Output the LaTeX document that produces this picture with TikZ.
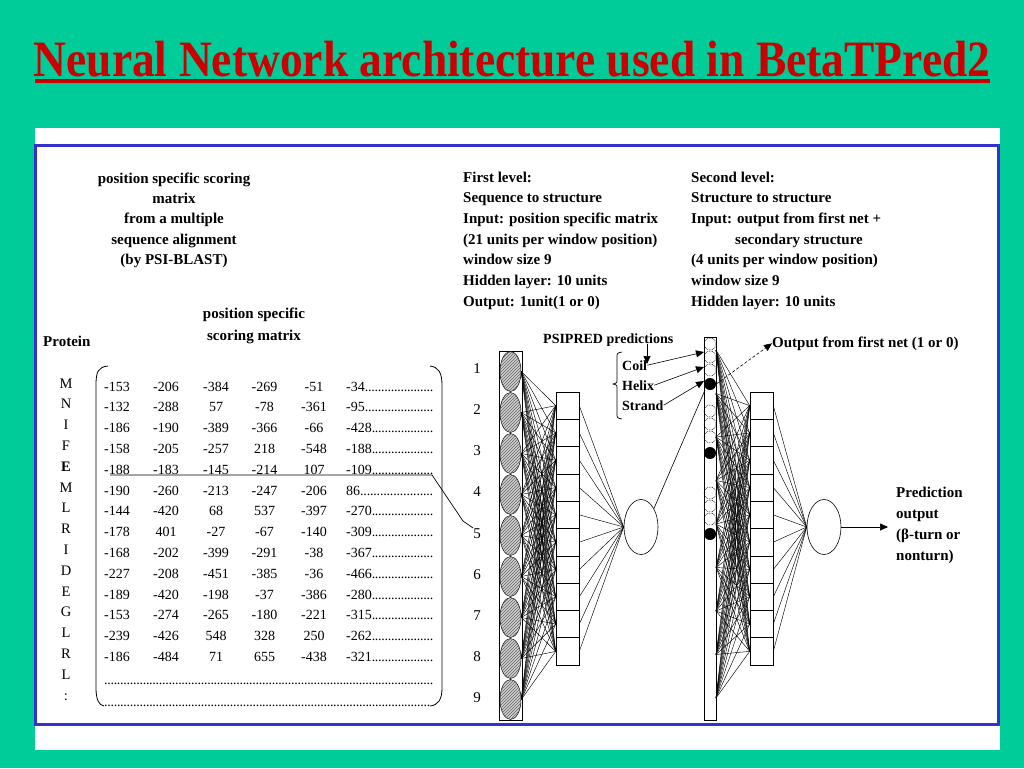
\documentclass[tikz,border=0pt]{standalone}
\usepackage{fontspec}
\setmainfont{Liberation Serif}
\usetikzlibrary{shapes.geometric,patterns,arrows.meta}
\definecolor{bggreen}{RGB}{0,204,153}
\definecolor{titlered}{RGB}{204,0,0}
\definecolor{frameblue}{RGB}{51,51,204}
\newcommand{\mxlead}[2]{\makebox[#1][l]{#2\xleaders\hbox to 3.2pt{\hss.\hss}\hfill}}
\begin{document}
\begin{tikzpicture}[x=1pt,y=-1pt,
  conn/.style={line width=0.45pt},
  arr/.style={line width=0.6pt,-{Triangle[length=8pt,width=7pt]}},
  lbl/.style={font=\fontsize{15}{20.7}\selectfont\bfseries, align=left, anchor=north west, inner sep=0},
  mtx/.style={font=\fontsize{14}{16}\selectfont, anchor=base, inner sep=0},
  inunit/.style={ellipse, draw, line width=0.5pt, minimum width=21, minimum height=40, inner sep=0,
     fill=gray!35, postaction={pattern=north east lines, pattern color=gray!75!black}},
  hbox/.style={draw, line width=0.6pt, minimum width=23, minimum height=27.3, inner sep=0},
  outunit/.style={draw, ellipse, line width=0.6pt, minimum width=34, minimum height=55, inner sep=0},
  openunit/.style={circle, draw, densely dotted, line width=0.6pt, minimum size=12, inner sep=0},
  fullunit/.style={circle, fill=black, minimum size=12, inner sep=0}]
\useasboundingbox (0,0) rectangle (1024,768);
\fill[bggreen] (0,0) rectangle (1024,768);
% title
\node[font=\fontsize{45.5}{50}\selectfont\bfseries, text=titlered, anchor=base, inner sep=0] (title) at (512,76)
  {\scalebox{1}[1.12]{Neural Network architecture used in BetaTPred2}};
\fill[titlered] (35,79) rectangle (990,83);
% panel
\fill[white] (35,128) rectangle (1000,750);
\draw[frameblue, line width=3pt] (35,145) rectangle (998,724);

% left header
\node[lbl, align=center, anchor=north, font=\fontsize{15}{20.3}\selectfont\bfseries] (psihead) at (174,168.8)
  {\strut position specific scoring\\matrix\\from a multiple\\sequence alignment\\(by PSI-BLAST)};
\node[lbl, align=center, anchor=north, font=\fontsize{15}{22}\selectfont\bfseries] (pssm) at (254,302.6)
  {\strut position specific\\scoring matrix};
\node[font=\fontsize{15}{18}\selectfont\bfseries, anchor=base west, inner sep=0] (protein) at (43,346) {Protein};

% sequence letters
\foreach \L [count=\k] in {M,N,I,F,{\textbf{E}},M,L,R,I,D,E,G,L,R,L,:}{
  \pgfmathsetmacro\yy{388+20.8*(\k-1)}
  \node[mtx, font=\fontsize{14.5}{16}\selectfont] (seq\k) at (66,\yy) {\L};
}
% matrix
\foreach \a/\b/\c/\d/\e/\f [count=\r] in {
 -153/-206/-384/-269/-51/-34, -132/-288/57/-78/-361/-95, -186/-190/-389/-366/-66/-428,
 -158/-205/-257/218/-548/-188, -188/-183/-145/-214/107/-109, -190/-260/-213/-247/-206/86,
 -144/-420/68/537/-397/-270, -178/401/-27/-67/-140/-309, -168/-202/-399/-291/-38/-367,
 -227/-208/-451/-385/-36/-466, -189/-420/-198/-37/-386/-280, -153/-274/-265/-180/-221/-315,
 -239/-426/548/328/250/-262, -186/-484/71/655/-438/-321}{
  \pgfmathsetmacro\yy{391+20.8*(\r-1)}
  \node[mtx] (ma\r) at (117,\yy) {\a};
  \node[mtx] (mb\r) at (166,\yy) {\b};
  \node[mtx] (mc\r) at (216,\yy) {\c};
  \node[mtx] (md\r) at (264.5,\yy) {\d};
  \node[mtx] (me\r) at (314,\yy) {\e};
  \node[mtx, anchor=base west] (mf\r) at (346,\yy) {\mxlead{87pt}{\f}};
}
\node[mtx, anchor=base west] (dots1) at (104,684) {\mxlead{329pt}{}};
\node[mtx, anchor=base west] (dots2) at (104,706) {\mxlead{326pt}{}};
% brackets
\draw[line width=0.8pt] (108,366) .. controls (98,367) and (96,372) .. (96,385) -- (96,688)
   .. controls (96,700) and (99,705) .. (104,706);
\draw[line width=0.8pt] (430,366) .. controls (438,367) and (442,372) .. (442,385) -- (442,688)
   .. controls (442,700) and (438,705) .. (430,706);

% position labels 1-9
\foreach \k in {1,...,9}{
  \pgfmathsetmacro\yy{332+41.2*\k}
  \node[mtx, font=\fontsize{15}{16}\selectfont] (n\k) at (477,\yy) {\k};
}
% line from row 5 to window position 5
\coordinate (r5a) at (110,475);
\coordinate (r5b) at (432,475);
\coordinate (r5c) at (463,521);
\draw[line width=0.7pt] (r5a) -- (r5b) -- (r5c) -- (n5.north west);

% level texts
\node[lbl] (first) at (463,167.5) {\strut First level:\\Sequence to structure\\Input: position specific matrix\\(21 units per window position)\\window size 9\\Hidden layer: 10 units\\Output: 1unit(1 or 0)};
\node[lbl] (second) at (691,167.5) {\strut Second level:\\Structure to structure\\Input: output from first net +\\\hspace*{44pt}secondary structure\\(4 units per window position)\\window size 9\\Hidden layer: 10 units};

% ---- first network
\node[draw, line width=0.7pt, minimum width=23, minimum height=369, inner sep=0] (col1) at (510.5,535.5) {};
\foreach \k in {1,...,9} \node[inunit] (in\k) at (510.5,{330.5+41*\k}) {};
\foreach \j in {1,...,10} \node[hbox] (ha\j) at (567.5,{378.35+27.3*\j}) {};
\node[outunit] (oa) at (641,527) {};
\foreach \k in {1,...,9}{\foreach \j in {1,...,10}{\draw[conn] (in\k.east) -- (ha\j.west);}}
\foreach \j in {1,...,10} \draw[conn] (ha\j.east) -- (oa.west);

% ---- second network
\node[draw, line width=0.7pt, minimum width=12, minimum height=383, inner sep=0] (col2) at (710,528.5) {};
\node[openunit] (u1) at (710,344) {};
\node[openunit] (u2) at (710,357) {};
\node[openunit] (u3) at (710,370) {};
\node[fullunit] (u4) at (710,384) {};
\node[openunit] (u5) at (710,411) {};
\node[openunit] (u6) at (710,424) {};
\node[openunit] (u7) at (710,437) {};
\node[fullunit] (u8) at (710,453) {};
\node[openunit] (u9) at (710,493) {};
\node[openunit] (u10) at (710,506) {};
\node[openunit] (u11) at (710,519) {};
\node[fullunit] (u12) at (710,534) {};
\foreach \j in {1,...,10} \node[hbox] (hb\j) at (761.5,{378.35+27.3*\j}) {};
\node[outunit] (ob) at (824,527) {};
\foreach \k in {1,...,9}{
  \coordinate (s\k) at (716,{350+43.5*(\k-1)});
  \foreach \j in {1,...,10}{\draw[conn] (s\k) -- (hb\j.west);}}
\foreach \j in {1,...,10} \draw[conn] (hb\j.east) -- (ob.west);

% first output to second input
\coordinate (c2in) at (705,390);
\draw[line width=0.6pt] (oa.55) -- (c2in);

% PSIPRED predictions
\node[font=\fontsize{14}{16}\selectfont\bfseries, anchor=base west, inner sep=0] (psip) at (543,343) {PSIPRED predictions};
\node[font=\fontsize{14}{16}\selectfont\bfseries, anchor=base west, inner sep=0] (coil) at (622,370) {Coil};
\node[font=\fontsize{14}{16}\selectfont\bfseries, anchor=base west, inner sep=0] (helix) at (622,390) {Helix};
\node[font=\fontsize{14}{16}\selectfont\bfseries, anchor=base west, inner sep=0] (strand) at (622,410) {Strand};
\coordinate (pv1) at (647,344);
\coordinate (pv2) at (647,364);
\draw[arr] (pv1) -- (pv2);
\coordinate (t1) at (704,352);
\coordinate (t2) at (704,367);
\coordinate (t3) at (704,381);
\draw[arr] (coil.east) -- (t1);
\draw[arr] (helix.east) -- (t2);
\draw[arr] (strand.east) -- (t3);
\draw[line width=0.7pt] (622,352) .. controls (617,353) .. (617,358) -- (617,379)
   .. controls (617,383) .. (613,384) .. controls (617,385) .. (617,389) -- (617,413)
   .. controls (617,418) .. (622,419);

% output from first net label
\node[font=\fontsize{15}{16}\selectfont\bfseries, anchor=base west, inner sep=0] (outlab) at (772,347) {Output from first net (1 or 0)};
\draw[arr, densely dashed] (u4.east) -- (outlab.west);

% prediction output
\node[lbl, font=\fontsize{15}{21}\selectfont\bfseries] (pred) at (896,482.3) {\strut Prediction\\output\\(β-turn or\\nonturn)};
\coordinate (predtip) at (888,527);
\draw[arr] (ob.east) -- (predtip);
\end{tikzpicture}
\end{document}
